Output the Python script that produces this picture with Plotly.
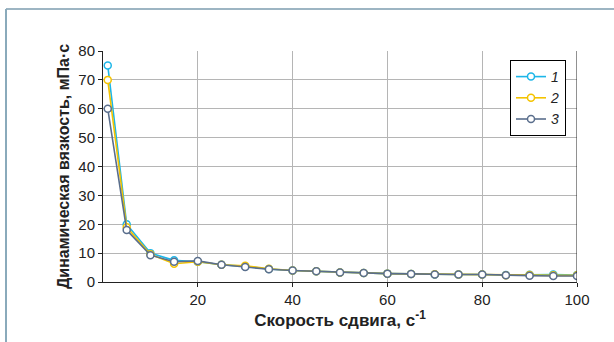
import plotly.graph_objects as go

shear_rate = [1, 5, 10, 15, 20, 25, 30, 35, 40, 45, 50, 55, 60, 65, 70, 75, 80, 85, 90, 95, 100]
series1 = [75, 20, 10, 7.5, 7.0, 6.0, 5.4, 4.5, 4.0, 3.7, 3.3, 3.1, 2.9, 2.8, 2.6, 2.6, 2.6, 2.4, 2.5, 2.6, 2.4]
series2 = [70, 19, 9.6, 6.3, 7.0, 6.0, 5.6, 4.6, 4.0, 3.7, 3.3, 3.1, 2.9, 2.8, 2.7, 2.6, 2.6, 2.3, 2.4, 2.3, 2.3]
series3 = [60, 18, 9.3, 7.0, 7.3, 6.0, 5.2, 4.4, 4.0, 3.7, 3.3, 3.1, 2.9, 2.8, 2.6, 2.6, 2.6, 2.3, 2.2, 2.1, 2.1]
names = ["1", "2", "3"]
colors = ["#1cb6e8", "#f4c300", "#5a6e8c"]

fig = go.Figure()
for name, ys, c in zip(names, [series1, series2, series3], colors):
    fig.add_trace(go.Scatter(
        x=shear_rate, y=ys, name="<i>" + name + "</i>", mode="lines+markers",
        line=dict(color=c, width=1.6),
        marker=dict(symbol="circle", size=7, color="white", line=dict(color=c, width=1.5)),
    ))

font_tick = "Liberation Sans Narrow, Liberation Sans, Arial, sans-serif"
font_title = "Liberation Sans, Arial, sans-serif"

L, T, W, H = 103, 51, 474, 231

fig.update_layout(
    width=614, height=342,
    margin=dict(l=L, r=614 - L - W, t=T, b=342 - T - H),
    paper_bgcolor="white", plot_bgcolor="white",
    showlegend=True,
    legend=dict(
        x=(510 - L) / W, y=(T + H - 60) / H, xanchor="left", yanchor="top",
        bordercolor="black", borderwidth=1, bgcolor="white",
        font=dict(family=font_title, size=14, color="#222"),
        itemwidth=30, tracegroupgap=0,
    ),
    xaxis=dict(
        range=[0, 100], tickvals=[20, 40, 60, 80, 100],
        showgrid=True, gridcolor="#b5b5b5", gridwidth=1,
        showline=True, linecolor="#222", linewidth=1, mirror=False,
        ticks="outside", ticklen=4, tickcolor="#222",
        tickfont=dict(family=font_tick, size=15, color="#222"),
        title=dict(text="<b>Скорость сдвига, с<sup>-1</sup></b>",
                   font=dict(family=font_title, size=17, color="#222"),
                   standoff=2),
        zeroline=False,
    ),
    yaxis=dict(
        range=[0, 80], tickvals=list(range(0, 81, 10)),
        showgrid=True, gridcolor="#b5b5b5", gridwidth=1,
        showline=True, linecolor="#222", linewidth=1,
        ticks="outside", ticklen=4, tickcolor="#222",
        tickfont=dict(family=font_tick, size=15, color="#222"),
        title=dict(text="<b>Динамическая вязкость, мПа·с</b>",
                   font=dict(family=font_title, size=16, color="#222"),
                   standoff=4),
        zeroline=False,
    ),
    shapes=[
        dict(type="line", xref="x", yref="paper", x0=100, x1=100, y0=0, y1=1,
             line=dict(color="#222", width=1)),
        dict(type="line", xref="paper", yref="paper",
             x0=(6 - L) / W, x1=(614 - L) / W, y0=(T + H - 9) / H, y1=(T + H - 9) / H,
             line=dict(color="#9db5c3", width=2)),
        dict(type="line", xref="paper", yref="paper",
             x0=(6 - L) / W, x1=(6 - L) / W, y0=(T + H - 9) / H, y1=(T + H - 342) / H,
             line=dict(color="#8aaabb", width=2)),
    ],
)

fig.write_html("out.html", config={"displayModeBar": False},
               post_script="document.body.style.margin='0';document.body.style.overflow='hidden';")
